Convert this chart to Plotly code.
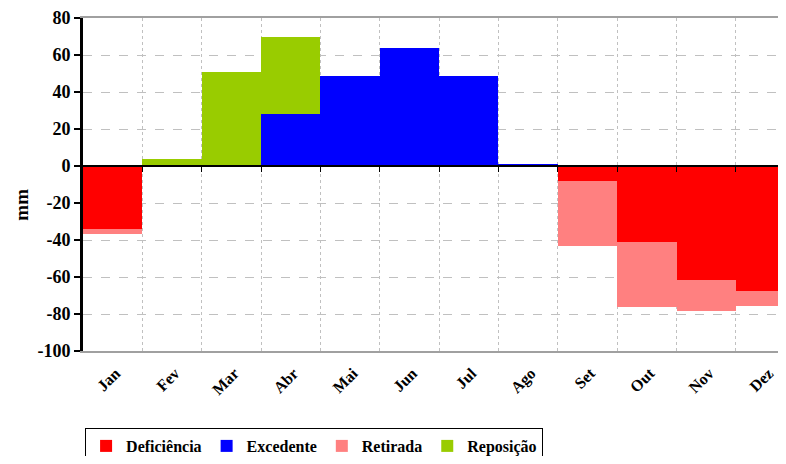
import plotly.graph_objects as go

months = ["Jan", "Fev", "Mar", "Abr", "Mai", "Jun", "Jul", "Ago", "Set", "Out", "Nov", "Dez"]
deficiencia = [-34, 0, 0, 0, 0, 0, 0, 0, -8, -41, -61.5, -67.5]
excedente = [0, 0, 0, 28, 48.5, 64, 48.5, 0.8, 0, 0, 0, 0]
retirada = [-3, 0, 0, 0, 0, 0, 0, 0, -35.5, -35, -17, -8]
reposicao = [0, 4, 51, 41.5, 0, 0, 0, 0, 0, 0, 0, 0]
y_ticks = [-100, -80, -60, -40, -20, 0, 20, 40, 60, 80]

x = list(range(len(months)))
FONT = "Liberation Serif"

fig = go.Figure()
series = [
    ("Deficiência", deficiencia, "#FF0000"),
    ("Excedente", excedente, "#0000FF"),
    ("Retirada", retirada, "#FF8080"),
    ("Reposição", reposicao, "#99CC00"),
]
for name, vals, col in series:
    fig.add_trace(go.Bar(x=x, y=vals, name=name,
                         marker=dict(color=col, line=dict(width=0)), width=1.0))

# invisible trace to activate the zero-line axis
fig.add_trace(go.Scatter(x=[x[0]], y=[0], xaxis="x2", mode="markers",
                         marker=dict(opacity=0), showlegend=False, hoverinfo="skip"))

ymin, ymax = -100, 80
xr = [-0.5, 11.21]
fig.update_layout(
    width=770, height=448,
    margin=dict(l=75, r=0, t=10, b=105),
    paper_bgcolor="white", plot_bgcolor="white",
    barmode="relative", bargap=0,
    font=dict(family=FONT, size=15, color="black"),
    xaxis=dict(
        range=xr, tickmode="array", tickvals=x, ticktext=months,
        automargin=False,
        tickangle=-45, showgrid=False, showline=True, linecolor="#A0A0A0", linewidth=1.5,
        mirror=True, ticks="", zeroline=False, ticklabelstandoff=5, ticklabelshift=3,
        tickfont=dict(family=FONT, size=16, color="black", weight="bold"),
        minor=dict(tickmode="array", tickvals=[i + 0.5 for i in x[:-1]], showgrid=True,
                   gridcolor="#C0C0C0", griddash="dot", gridwidth=1, ticks=""),
    ),
    xaxis2=dict(
        range=xr, overlaying="x", anchor="free", position=(0 - ymin) / (ymax - ymin),
        showline=True, linecolor="black", linewidth=2, showgrid=False, zeroline=False,
        tickmode="array", tickvals=[i + 0.5 for i in x[:-1]], ticks="outside",
        ticklen=5, tickwidth=1, tickcolor="black", showticklabels=False, side="bottom",
        automargin=False,
    ),
    yaxis=dict(
        range=[ymin, ymax], tickmode="array", tickvals=y_ticks,
        ticktext=[str(v) for v in y_ticks],
        showline=True, linecolor="black", linewidth=3,
        ticks="outside", ticklen=6, tickwidth=2, tickcolor="black", automargin=False,
        showgrid=True, gridcolor="#C0C0C0", griddash="dash", gridwidth=1, zeroline=False,
        tickfont=dict(family=FONT, size=18, color="black", weight="bold"),
    ),
    annotations=[dict(
        text="mm", xref="paper", yref="paper", x=-0.089, y=0.44,
        xanchor="center", yanchor="middle", textangle=-90, showarrow=False,
        font=dict(family=FONT, size=19, color="black", weight="bold"),
    )],
    legend=dict(
        orientation="h", xref="paper", x=0.003, xanchor="left",
        yref="container", y=1 - 420 / 448, yanchor="top",
        bordercolor="black", borderwidth=1, bgcolor="white",
        font=dict(family=FONT, size=16, color="black", weight="bold"),
        itemwidth=30, traceorder="normal",
    ),
)

fig.write_html("out.html")
